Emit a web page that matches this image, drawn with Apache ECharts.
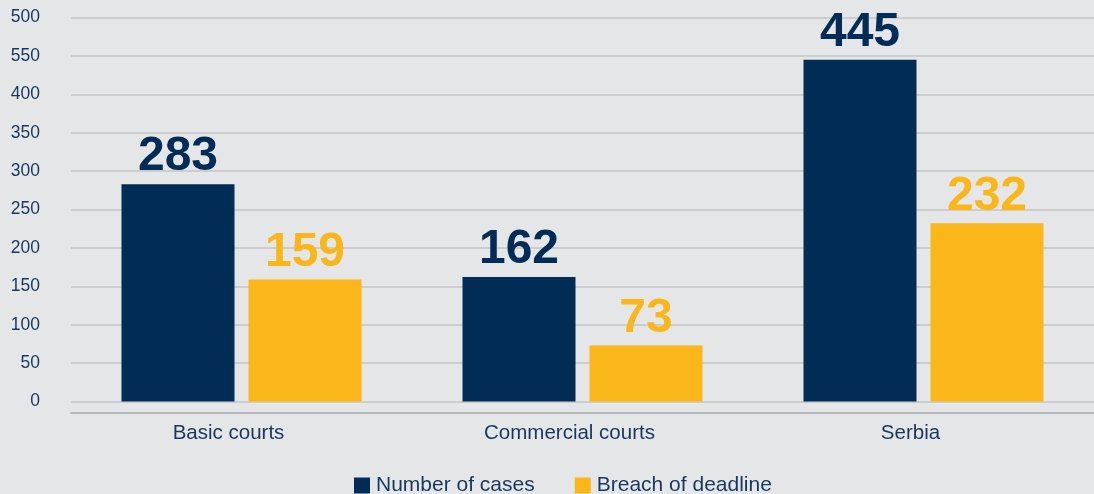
<!DOCTYPE html>
<html><head><meta charset="utf-8">
<script src="https://cdn.jsdelivr.net/npm/echarts@6/dist/echarts.min.js"></script>
<style>html,body{margin:0;padding:0;background:#e5e6e8;}#c{width:1094px;height:494px;}</style>
</head><body><div id="c"></div>
<script>
const categories = ['Basic courts', 'Commercial courts', 'Serbia'];
const numberOfCases = [283, 162, 445];
const breachOfDeadline = [159, 73, 232];
const tickValues = [0, 50, 100, 150, 200, 250, 300, 350, 400, 450, 500];
const tickLabels = ['0', '50', '100', '150', '200', '250', '300', '350', '400', '550', '500'];

const navy = '#002c55';
const yellow = '#fbb619';
const textColor = '#17375e';

const chart = echarts.init(document.getElementById('c'));
chart.setOption({
  backgroundColor: '#e5e6e8',
  animation: false,
  grid: { left: 71, right: -5, top: 17.5, bottom: 92.5 },
  legend: {
    bottom: -7, left: 349,
    itemWidth: 16, itemHeight: 16, itemGap: 40,
    icon: 'rect',
    textStyle: { fontFamily: 'Liberation Sans, Arial', fontSize: 21, color: textColor, padding: [0, 0, 0, 1] },
    data: ['Number of cases', 'Breach of deadline']
  },
  xAxis: {
    type: 'category', data: categories,
    offset: 11,
    axisLine: { onZero: false, lineStyle: { color: '#b9babd', width: 2 } },
    axisTick: { show: false },
    axisLabel: { fontFamily: 'Liberation Sans, Arial', fontSize: 20.5, color: textColor, margin: 10,
      padding: [0, 26, 0, 0] }
  },
  yAxis: {
    type: 'value', min: 0, max: 500, interval: 50,
    axisLine: { show: false }, axisTick: { show: false },
    splitLine: { lineStyle: { color: '#c4c5c7', width: 1.5 } },
    axisLabel: {
      fontFamily: 'Liberation Sans, Arial', fontSize: 17.5, color: textColor, margin: 31,
      formatter: v => { const i = tickValues.indexOf(v); return i >= 0 ? tickLabels[i] : ''; }
    }
  },
  series: [
    {
      name: 'Number of cases', type: 'bar', data: numberOfCases,
      barWidth: 113, barGap: '12.4%',
      itemStyle: { color: navy },
      label: { show: true, position: 'top', distance: 3, color: navy,
        fontFamily: 'Liberation Sans, Arial', fontWeight: 'bold', fontSize: 48 }
    },
    {
      name: 'Breach of deadline', type: 'bar', data: breachOfDeadline,
      barWidth: 113,
      itemStyle: { color: yellow },
      label: { show: true, position: 'top', distance: 3, color: yellow,
        fontFamily: 'Liberation Sans, Arial', fontWeight: 'bold', fontSize: 48 }
    }
  ]
});
</script></body></html>
